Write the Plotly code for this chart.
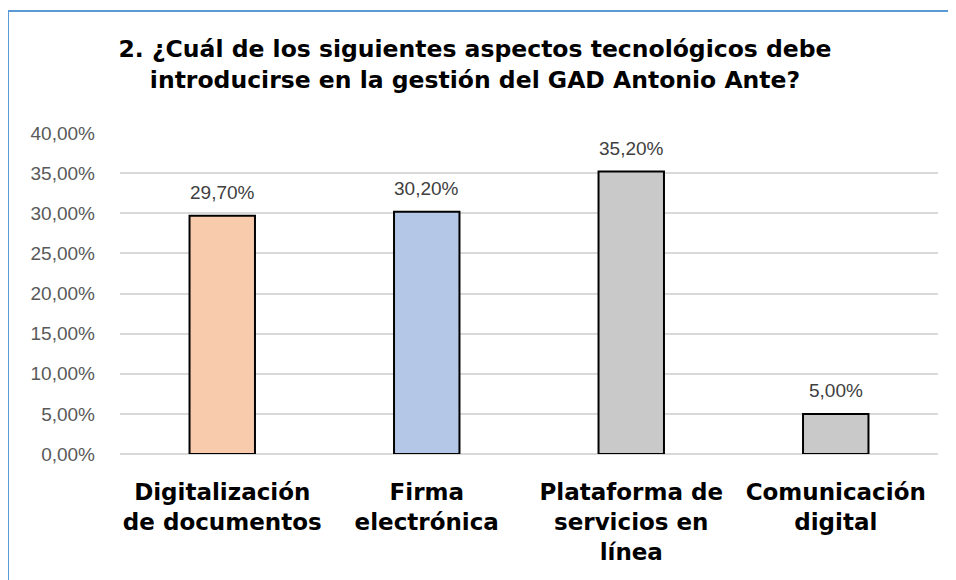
import plotly.graph_objects as go

categories = ["Digitalización<br>de documentos", "Firma<br>electrónica",
              "Plataforma de<br>servicios en<br>línea", "Comunicación<br>digital"]
values = [0.297, 0.302, 0.352, 0.05]
bar_colors = ["#F8CBAD", "#B4C7E7", "#C9C9C9", "#C9C9C9"]
title_text = "<b>2. ¿Cuál de los siguientes aspectos tecnológicos debe<br>introducirse en la gestión del GAD Antonio Ante?</b>"

W, H = 956, 580
OFF = 8  # page body offset
ml, mt = 120 - OFF, 133 - OFF
pw, ph = 818, 321
mr = W - ml - pw
mb = H - mt - ph

fig = go.Figure()
fig.add_trace(go.Bar(
    x=categories, y=values,
    marker=dict(color=bar_colors, line=dict(color="#000000", width=2)),
    hoverinfo="skip",
))

for c, v in zip(categories, values):
    fig.add_annotation(x=c, y=v, xref="x", yref="y", text=f"{v*100:.2f}%".replace(".", ","),
                       showarrow=False, yanchor="bottom", yshift=11,
                       font=dict(family="Liberation Sans", size=19, color="#404040"))

def px_x(px):
    return (px - OFF - ml) / pw

def px_y(py):
    return (H - mb - (py - OFF)) / ph

fig.add_shape(type="rect", xref="paper", yref="paper",
              x0=px_x(8), x1=px_x(990), y0=px_y(640), y1=px_y(11),
              line=dict(color="#5B9BD5", width=2), fillcolor="rgba(0,0,0,0)", layer="above")

fig.update_layout(
    width=W, height=H,
    margin=dict(l=ml, r=mr, t=mt, b=mb),
    paper_bgcolor="white", plot_bgcolor="white",
    separators=",.",
    bargap=0.68,
    showlegend=False,
    title=dict(text=title_text, x=(475 - OFF) / W, xanchor="center", xref="container",
               y=1 - (57 - OFF) / H, yanchor="middle", yref="container",
               font=dict(family="DejaVu Sans", size=23.5, color="#000000")),
    xaxis=dict(showgrid=False, showline=False, ticks="", ticklabelstandoff=22,
               tickfont=dict(family="DejaVu Sans", size=23, color="#000000", weight="bold")),
    yaxis=dict(range=[0, 0.40], dtick=0.05, tickformat=".2%", showgrid=True,
               gridcolor="#D9D9D9", gridwidth=1.5, zeroline=True, zerolinecolor="#D9D9D9",
               zerolinewidth=1.5, showline=False, ticks="", ticklabelstandoff=24,
               tickfont=dict(family="Liberation Sans", size=19, color="#595959")),
)

fig.write_html("out.html")
